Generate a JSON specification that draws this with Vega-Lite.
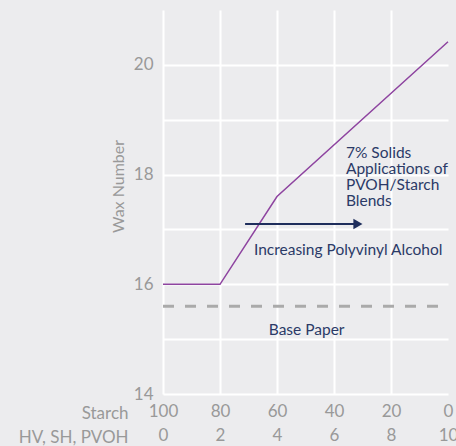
{
  "$schema": "https://vega.github.io/schema/vega-lite/v6.json",
  "width": 285,
  "height": 384,
  "autosize": "none",
  "padding": {"left": 163, "top": 10, "right": 8, "bottom": 52},
  "background": "#ECECEE",
  "config": {
    "view": {"stroke": null},
    "font": "Lato",
    "axis": {
      "domain": false,
      "ticks": false,
      "gridColor": "#FFFFFF",
      "gridWidth": 2,
      "gridOpacity": 1,
      "labelColor": "#999999",
      "labelFontSize": 17,
      "labelFont": "Lato",
      "titleColor": "#999999",
      "titleFont": "Lato",
      "titleFontWeight": "normal",
      "labelOverlap": false,
      "labelBound": false
    }
  },
  "encoding": {
    "x": {
      "field": "x",
      "type": "quantitative",
      "scale": {"domain": [0, 10], "nice": false, "zero": false},
      "axis": {
        "values": [0, 2, 4, 6, 8, 10],
        "labelExpr": "[format(100 - datum.value * 10, 'd'), format(datum.value, 'd')]",
        "labelLineHeight": 24,
        "labelBaseline": "top",
        "labelPadding": 9,
        "labelFlush": false,
        "gridOpacity": {"condition": {"test": "datum.value == 10", "value": 0}, "value": 1},
        "title": ["Starch", "HV, SH, PVOH"],
        "titleX": -35,
        "titleY": 24,
        "titleAlign": "right",
        "titleAnchor": null,
        "titleBaseline": "alphabetic",
        "titleLineHeight": 24,
        "titleFontSize": 17,
        "titlePadding": 0
      }
    },
    "y": {
      "field": "y",
      "type": "quantitative",
      "scale": {"domain": [14, 21], "nice": false, "zero": false},
      "axis": {
        "values": [14, 15, 16, 17, 18, 19, 20],
        "labelExpr": "datum.value % 2 == 0 ? datum.label : ''",
        "labelPadding": 10,
        "title": "Wax Number",
        "titleFontSize": 16,
        "titleX": -37,
        "titleY": 176,
        "titleAngle": -90,
        "titleBaseline": "bottom",
        "titleAlign": "center"
      }
    }
  },
  "layer": [
    {
      "data": {"values": [
        {"x": 0, "x2": 10, "y": 15.6}
      ]},
      "mark": {"type": "rule", "color": "#AAAAAA", "strokeWidth": 3, "strokeDash": [11, 11]},
      "encoding": {"x2": {"field": "x2"}}
    },
    {
      "data": {"values": [
        {"x": 0, "y": 16.0},
        {"x": 2, "y": 16.0},
        {"x": 4, "y": 17.6},
        {"x": 10, "y": 20.42}
      ]},
      "mark": {"type": "line", "color": "#8E44A0", "strokeWidth": 1.5, "clip": false}
    },
    {
      "data": {"values": [
        {"x": 2.88, "x2": 6.84, "y": 17.1}
      ]},
      "mark": {"type": "rule", "color": "#1F2E5C", "strokeWidth": 2},
      "encoding": {"x2": {"field": "x2"}}
    },
    {
      "data": {"values": [
        {"x": 6.84, "y": 17.1}
      ]},
      "mark": {"type": "point", "shape": "triangle-right", "filled": true, "color": "#1F2E5C", "opacity": 1, "size": 110}
    },
    {
      "data": {"values": [
        {"x": 6.42, "y": 18.3, "label": "7% Solids\nApplications of\nPVOH/Starch\nBlends"},
        {"x": 3.19, "y": 16.53, "label": "Increasing Polyvinyl Alcohol"},
        {"x": 3.71, "y": 15.07, "label": "Base Paper"}
      ]},
      "mark": {"type": "text", "align": "left", "baseline": "alphabetic", "color": "#2B3A67", "fontSize": 15.5, "lineBreak": "\n", "lineHeight": 16, "font": "Lato"},
      "encoding": {"text": {"field": "label"}}
    }
  ]
}
